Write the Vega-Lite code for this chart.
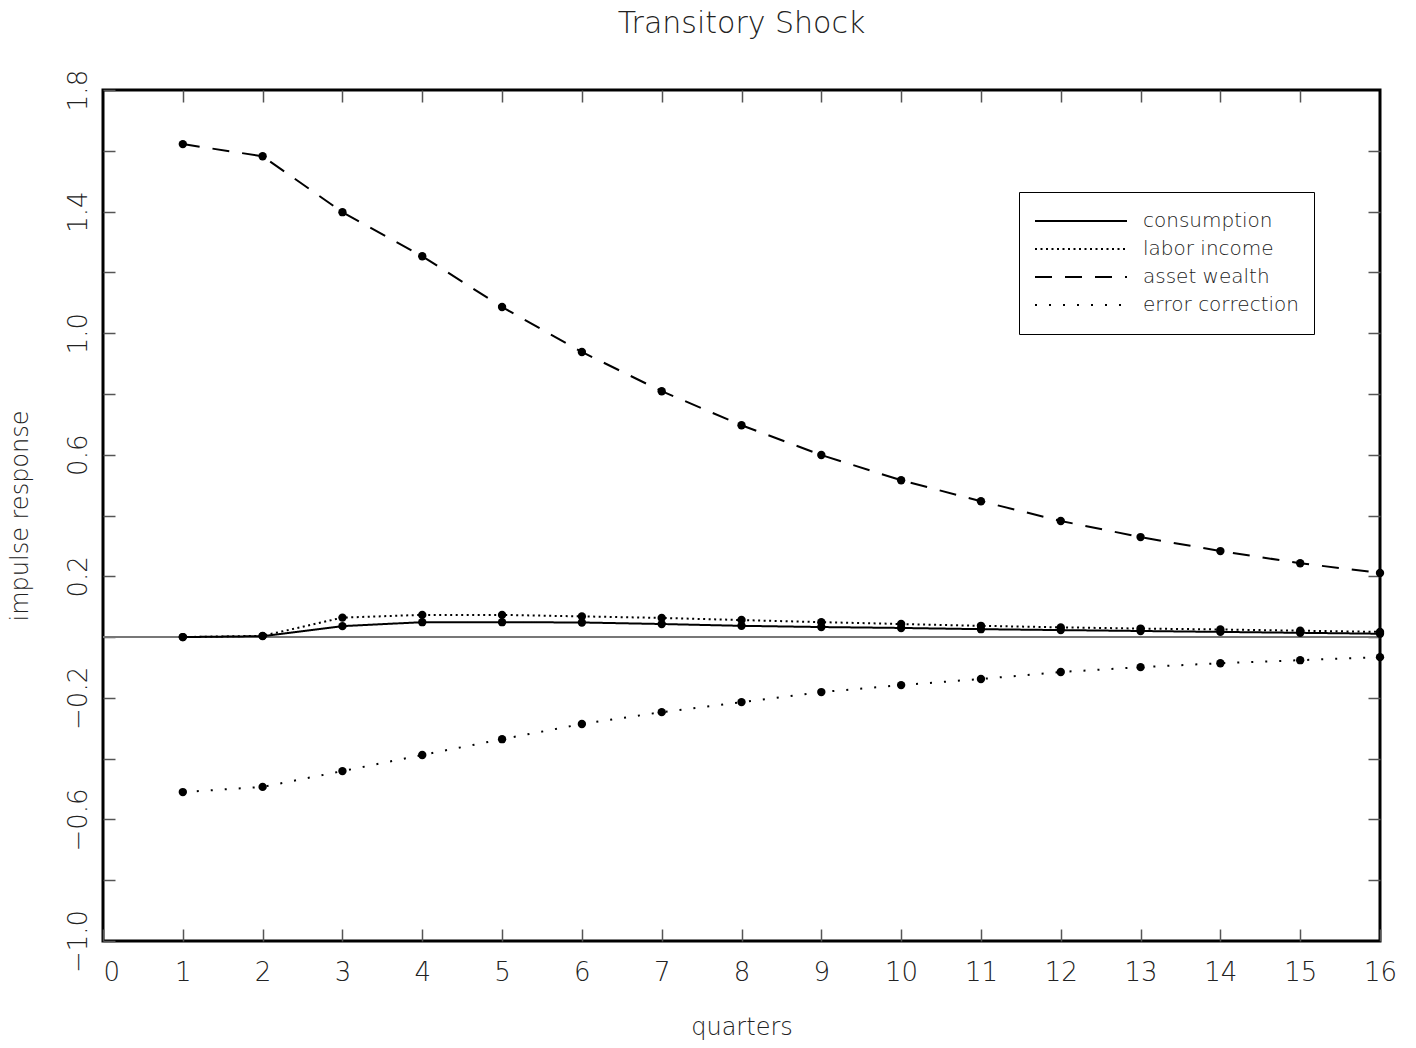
{
  "$schema": "https://vega.github.io/schema/vega-lite/v6.json",
  "autosize": {"type": "none"},
  "padding": {"left": 103, "top": 90, "right": 36, "bottom": 107},
  "width": 1277,
  "height": 851,
  "background": "white",
  "title": {"text": "Transitory Shock", "fontSize": 30, "font": "DejaVu Sans", "fontWeight": 200, "color": "#222", "anchor": "middle", "offset": 30},
  "config": {
    "view": {"stroke": "black", "strokeWidth": 3},
    "font": "DejaVu Sans",
    "axis": {"grid": false, "domain": false, "tickColor": "#555", "tickWidth": 1.5, "tickSize": -12, "labelFont": "DejaVu Sans", "labelFontWeight": 200, "labelColor": "#222", "titleFont": "DejaVu Sans", "titleFontWeight": 200, "titleColor": "#222", "labelFontSize": 26, "titleFontSize": 24}
  },
  "data": {"values": [
    {"q":1,"v":0.0,"s":"consumption"},{"q":2,"v":0.003,"s":"consumption"},{"q":3,"v":0.036,"s":"consumption"},{"q":4,"v":0.049,"s":"consumption"},{"q":5,"v":0.049,"s":"consumption"},{"q":6,"v":0.048,"s":"consumption"},{"q":7,"v":0.043,"s":"consumption"},{"q":8,"v":0.037,"s":"consumption"},{"q":9,"v":0.033,"s":"consumption"},{"q":10,"v":0.030,"s":"consumption"},{"q":11,"v":0.026,"s":"consumption"},{"q":12,"v":0.023,"s":"consumption"},{"q":13,"v":0.020,"s":"consumption"},{"q":14,"v":0.017,"s":"consumption"},{"q":15,"v":0.014,"s":"consumption"},{"q":16,"v":0.011,"s":"consumption"},
    {"q":1,"v":0.0,"s":"labor income"},{"q":2,"v":0.004,"s":"labor income"},{"q":3,"v":0.064,"s":"labor income"},{"q":4,"v":0.073,"s":"labor income"},{"q":5,"v":0.073,"s":"labor income"},{"q":6,"v":0.068,"s":"labor income"},{"q":7,"v":0.063,"s":"labor income"},{"q":8,"v":0.056,"s":"labor income"},{"q":9,"v":0.049,"s":"labor income"},{"q":10,"v":0.043,"s":"labor income"},{"q":11,"v":0.037,"s":"labor income"},{"q":12,"v":0.032,"s":"labor income"},{"q":13,"v":0.028,"s":"labor income"},{"q":14,"v":0.025,"s":"labor income"},{"q":15,"v":0.021,"s":"labor income"},{"q":16,"v":0.017,"s":"labor income"},
    {"q":1,"v":1.622,"s":"asset wealth"},{"q":2,"v":1.582,"s":"asset wealth"},{"q":3,"v":1.398,"s":"asset wealth"},{"q":4,"v":1.253,"s":"asset wealth"},{"q":5,"v":1.086,"s":"asset wealth"},{"q":6,"v":0.938,"s":"asset wealth"},{"q":7,"v":0.809,"s":"asset wealth"},{"q":8,"v":0.697,"s":"asset wealth"},{"q":9,"v":0.599,"s":"asset wealth"},{"q":10,"v":0.516,"s":"asset wealth"},{"q":11,"v":0.447,"s":"asset wealth"},{"q":12,"v":0.382,"s":"asset wealth"},{"q":13,"v":0.329,"s":"asset wealth"},{"q":14,"v":0.283,"s":"asset wealth"},{"q":15,"v":0.243,"s":"asset wealth"},{"q":16,"v":0.211,"s":"asset wealth"},
    {"q":1,"v":-0.510,"s":"error correction"},{"q":2,"v":-0.493,"s":"error correction"},{"q":3,"v":-0.441,"s":"error correction"},{"q":4,"v":-0.388,"s":"error correction"},{"q":5,"v":-0.336,"s":"error correction"},{"q":6,"v":-0.286,"s":"error correction"},{"q":7,"v":-0.247,"s":"error correction"},{"q":8,"v":-0.214,"s":"error correction"},{"q":9,"v":-0.181,"s":"error correction"},{"q":10,"v":-0.158,"s":"error correction"},{"q":11,"v":-0.138,"s":"error correction"},{"q":12,"v":-0.115,"s":"error correction"},{"q":13,"v":-0.099,"s":"error correction"},{"q":14,"v":-0.086,"s":"error correction"},{"q":15,"v":-0.076,"s":"error correction"},{"q":16,"v":-0.066,"s":"error correction"}
  ]},
  "resolve": {"axis": {"x": "independent", "y": "independent"}},
  "layer": [
    {
      "mark": {"type": "rule", "color": "#777", "strokeWidth": 1.5},
      "encoding": {"y": {"datum": 0, "type": "quantitative", "axis": null}}
    },
    {
      "mark": {"type": "line", "color": "black", "strokeWidth": 2},
      "encoding": {
        "x": {"field": "q", "type": "quantitative", "scale": {"domain": [0, 16], "nice": false},
          "axis": {"orient": "bottom", "title": "quarters", "values": [0,1,2,3,4,5,6,7,8,9,10,11,12,13,14,15,16], "labelPadding": 30, "titlePadding": 30,
            "labelAlign": {"condition": {"test": "datum.value == 0", "value": "left"}, "value": "center"}}},
        "y": {"field": "v", "type": "quantitative", "scale": {"domain": [-1.0, 1.8], "nice": false, "zero": false},
          "axis": {"orient": "left", "title": "impulse response", "values": [-1.0,-0.8,-0.6,-0.4,-0.2,0,0.2,0.4,0.6,0.8,1.0,1.2,1.4,1.6,1.8], "format": ".1f",
            "labelExpr": "round((datum.value + 1) / 0.2) % 2 == 0 ? datum.label : ''", "labelAngle": -90, "labelPadding": 24, "titlePadding": 33}},
        "strokeDash": {"field": "s", "type": "nominal",
          "scale": {"domain": ["consumption", "labor income", "asset wealth", "error correction"], "range": [[1, 0], [2, 3.5], [17, 13], [2, 12]]},
          "legend": {"title": null, "orient": "none", "legendX": 916, "legendY": 102, "strokeColor": "black", "padding": 15, "symbolType": "stroke", "symbolSize": 8464, "symbolStrokeColor": "black", "symbolStrokeWidth": 2, "labelFontSize": 20, "labelFont": "DejaVu Sans", "labelFontWeight": 200, "labelColor": "#222", "labelOffset": 15, "rowPadding": 0, "clipHeight": 28, "fillColor": "white"}}
      }
    },
    {
      "mark": {"type": "circle", "color": "black", "size": 70, "opacity": 1},
      "encoding": {
        "x": {"field": "q", "type": "quantitative", "axis": {"orient": "top", "labels": false, "title": null, "values": [1,2,3,4,5,6,7,8,9,10,11,12,13,14,15]}},
        "y": {"field": "v", "type": "quantitative", "axis": {"orient": "right", "labels": false, "title": null, "values": [-0.8,-0.6,-0.4,-0.2,0,0.2,0.4,0.6,0.8,1.0,1.2,1.4,1.6]}}
      }
    }
  ]
}
